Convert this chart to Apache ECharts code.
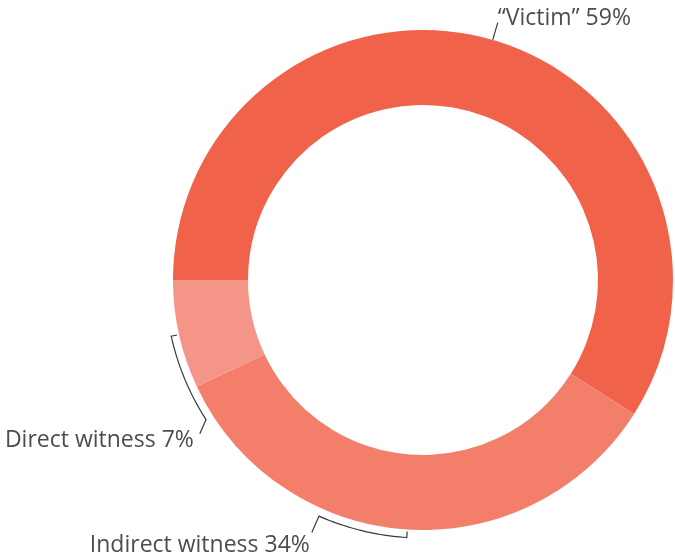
<!DOCTYPE html>
<html>
<head>
<meta charset="utf-8">
<script src="https://cdn.jsdelivr.net/npm/echarts@6/dist/echarts.min.js"></script>
<style>
  html, body { margin: 0; padding: 0; background: #fff; }
  #chart { width: 675px; height: 559px; }
</style>
</head>
<body>
<div id="chart"></div>
<script>
// data
var categories = ["\u201cVictim\u201d", "Indirect witness", "Direct witness"];
var shares = [59, 34, 7];
var colors = ["#F1624A", "#F37F6A", "#F59587"];

// leader line look per slice (bracket sweep and end twist in % of circle, outer reach in px)
var bracketSweep = [0, 5.6, -5.6];
var endTwist = [0, 0, -0.5];
var lineReach = [268, 276, 271];
var labelAlign = ["left", "right", "right"];
var labelOffset = [[0, -4], [-2, 13], [-6, 7]];

var CENTER = [423, 280];
var R_OUT = 250, R_IN = 175, R_BRACKET = 258;

var total = shares.reduce(function (a, b) { return a + b; }, 0);
var starts = [];
var acc = 0;
shares.forEach(function (v) { starts.push(acc); acc += v; });
var mids = shares.map(function (v, i) { return (starts[i] + v / 2) / total * 100; });

var chart = echarts.init(document.getElementById("chart"));
chart.setOption({
  animation: false,
  polar: { center: CENTER, radius: 300 },
  angleAxis: {
    type: "value", min: 0, max: 100, startAngle: 180, clockwise: true,
    axisLine: { show: false }, axisTick: { show: false },
    axisLabel: { show: false }, splitLine: { show: false }
  },
  radiusAxis: {
    type: "value", min: 0, max: 300,
    axisLine: { show: false }, axisTick: { show: false },
    axisLabel: { show: false }, splitLine: { show: false }
  },
  series: [
    {
      type: "pie",
      center: CENTER,
      radius: [R_IN, R_OUT],
      startAngle: 180,
      clockwise: true,
      label: { show: false },
      labelLine: { show: false },
      emphasis: { disabled: true },
      data: categories.map(function (c, i) {
        return { name: c, value: shares[i], itemStyle: { color: colors[i] } };
      })
    },
    {
      type: "custom",
      coordinateSystem: "polar",
      silent: true,
      data: mids.map(function (m) { return [R_OUT, m]; }),
      encode: { radius: 0, angle: 1 },
      renderItem: function (params, api) {
        var i = params.dataIndex;
        var mid = api.value(1);
        var sweep = bracketSweep[i];
        var pts = [];
        if (sweep !== 0) {
          pts.push(api.coord([R_OUT + 2, mid]));
          var steps = 24;
          for (var k = 0; k <= steps; k++) {
            pts.push(api.coord([R_BRACKET, mid + sweep * k / steps]));
          }
        } else {
          pts.push(api.coord([R_OUT, mid]));
        }
        var end = api.coord([lineReach[i], mid + sweep + endTwist[i]]);
        pts.push(end);
        return {
          type: "group",
          children: [
            {
              type: "polyline",
              shape: { points: pts },
              style: { stroke: "#3a3a3a", lineWidth: 1.2, fill: null }
            },
            {
              type: "text",
              style: {
                text: categories[i] + " " + shares[i] + "%",
                x: end[0] + labelOffset[i][0],
                y: end[1] + labelOffset[i][1],
                align: labelAlign[i],
                verticalAlign: "middle",
                fill: "#4d4d4d",
                fontSize: 23,
                fontFamily: "Open Sans"
              }
            }
          ]
        };
      }
    }
  ]
});
</script>
</body>
</html>
